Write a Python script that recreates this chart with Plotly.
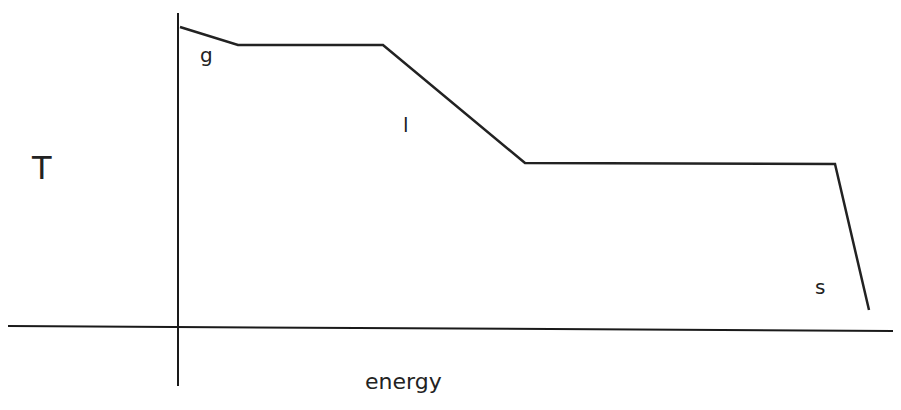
import plotly.graph_objects as go

# heating curve sketch, coordinates in picture units (x right, y down)
curve_x = [180, 238, 383, 525, 835, 869]
curve_y = [27, 45, 45, 163, 164, 310]

# axis strokes
vaxis_x = [178, 178]
vaxis_y = [13, 386]
haxis_x = [8, 900]
haxis_y = [326, 331]

# phase labels and axis labels
label_text = ["g", "l", "s", "T", "energy"]
label_x = [206, 406, 820, 41, 403]
label_y = [55, 125, 287, 168, 381]
label_size = [20, 20, 20, 32, 22]

fig = go.Figure()

# axes
fig.add_trace(go.Scatter(x=vaxis_x, y=vaxis_y, mode="lines",
                         line=dict(color="#1a1a1a", width=2)))
fig.add_trace(go.Scatter(x=haxis_x, y=haxis_y, mode="lines",
                         line=dict(color="#1a1a1a", width=2)))

# the curve itself
fig.add_trace(go.Scatter(x=curve_x, y=curve_y, mode="lines",
                         line=dict(color="#222222", width=2.5)))

# labels
for t, x, y, s in zip(label_text, label_x, label_y, label_size):
    fig.add_annotation(x=x, y=y, text=t, showarrow=False,
                       font=dict(family="DejaVu Sans", size=s, color="#222222"))

# page body adds an 8px margin, so shift the visible window to compensate
fig.update_layout(
    width=901,
    height=410,
    margin=dict(l=0, r=0, t=0, b=0),
    plot_bgcolor="white",
    paper_bgcolor="white",
    showlegend=False,
    xaxis=dict(range=[8, 909], visible=False, fixedrange=True),
    yaxis=dict(range=[418, 8], visible=False, fixedrange=True),
)

fig.write_html("out.html")
